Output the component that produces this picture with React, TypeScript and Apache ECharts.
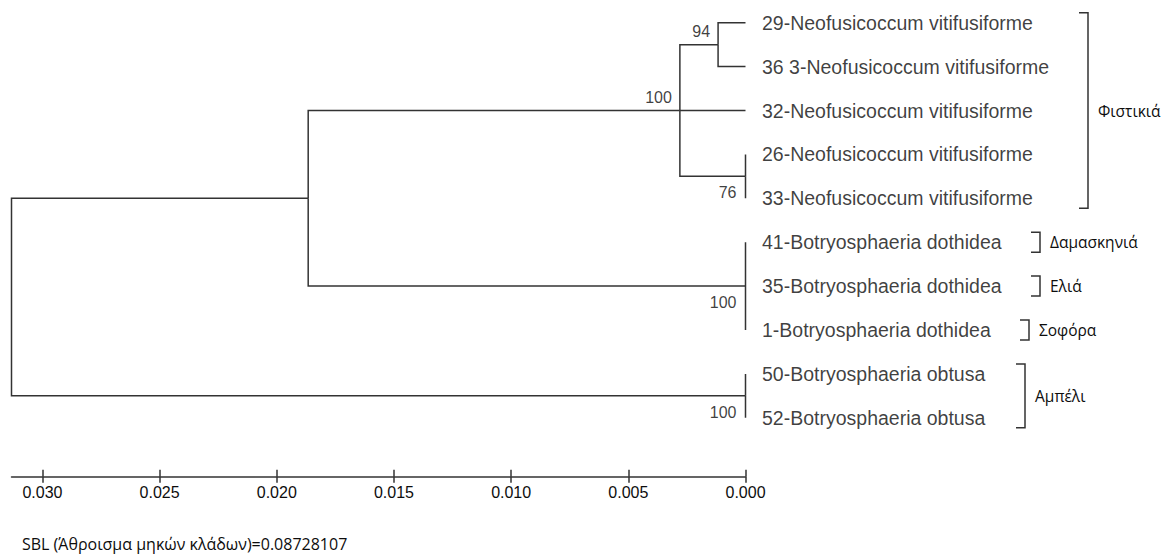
import React, { useEffect, useRef } from 'react';
import * as echarts from 'echarts';

// ---- data ----
const leafNames = [
  '29-Neofusicoccum vitifusiforme',
  '36 3-Neofusicoccum vitifusiforme',
  '32-Neofusicoccum vitifusiforme',
  '26-Neofusicoccum vitifusiforme',
  '33-Neofusicoccum vitifusiforme',
  '41-Botryosphaeria dothidea',
  '35-Botryosphaeria dothidea',
  '1-Botryosphaeria dothidea',
  '50-Botryosphaeria obtusa',
  '52-Botryosphaeria obtusa',
];
const leafDepths = [0, 0, 0, 0, 0, 0, 0, 0, 0, 0];

const nodeIds = ['n29_36', 'nNeo', 'n26_33', 'nDoth', 'nObt', 'nNeoDoth', 'root'];
const nodeDepths = [0.00117, 0.0028, 0, 0, 0, 0.01866, 0.03132];
const nodeChildren = [
  ['L0', 'L1'],
  ['n29_36', 'L2', 'n26_33'],
  ['L3', 'L4'],
  ['L5', 'L6', 'L7'],
  ['L8', 'L9'],
  ['nNeo', 'nDoth'],
  ['nNeoDoth', 'nObt'],
];
const nodeSupport: (number | null)[] = [94, 100, 76, 100, 100, null, null];
const supportSide: (string | null)[] = ['above', 'above', 'below', 'below', 'below', null, null];

const axisTickValues = [0, 0.005, 0.01, 0.015, 0.02, 0.025, 0.03];

const hostNames = ['Φιστικιά', 'Δαμασκηνιά', 'Ελιά', 'Σοφόρα', 'Αμπέλι'];
const hostFirstLeaf = [0, 5, 6, 7, 8];
const hostLastLeaf = [4, 5, 6, 7, 9];

const sblText = 'SBL (Άθροισμα μηκών κλάδων)=0.08728107';

// ---- layout (pixels) ----
const bracketX = [1088, 1040, 1040, 1029, 1025];
const LINE = '#333333';
const TEXT = '#0d0d0d';
const GREEK_FONT = '"Open Sans", "Noto Sans", sans-serif';
const SANS = '"Liberation Sans", Arial, sans-serif';

function pos(id: string): [number, number] {
  if (id.startsWith('L')) {
    const i = Number(id.slice(1));
    return [leafDepths[i], i];
  }
  const k = nodeIds.indexOf(id);
  const ch = nodeChildren[k];
  const first = pos(ch[0]);
  const last = pos(ch[ch.length - 1]);
  return [nodeDepths[k], (first[1] + last[1]) / 2];
}

export default function App() {
  const ref = useRef<HTMLDivElement>(null);
  useEffect(() => {
    if (!ref.current) return;
    const chart = echarts.init(ref.current, null, { renderer: 'svg' });

    const branches: any[] = [];
    nodeIds.forEach((id, k) => {
      const [nx, ny] = pos(id);
      nodeChildren[k].forEach((c) => {
        const [cx, cy] = pos(c);
        branches.push({ coords: [[nx, ny], [nx, cy], [cx, cy]] });
      });
    });

    const supportData: any[] = [];
    nodeIds.forEach((id, k) => {
      if (nodeSupport[k] == null) return;
      const [nx, ny] = pos(id);
      const above = supportSide[k] === 'above';
      supportData.push({
        value: [nx, ny],
        name: String(nodeSupport[k]),
        label: { position: above ? [-7.5, -12.5] : [-8.5, 17] },
      });
    });

    const xAxisBase = {
      type: 'value',
      inverse: true,
      min: 0,
      max: nodeDepths[nodeDepths.length - 1],
      interval: 0.005,
      position: 'bottom',
      offset: 59,
      splitLine: { show: false },
    };

    chart.setOption({
      animation: false,
      backgroundColor: '#ffffff',
      grid: { left: 11.5, right: 417.5, top: 22.7, bottom: 136.2, containLabel: false },
      xAxis: [
        {
          ...xAxisBase,
          axisLine: { show: true, onZero: false, lineStyle: { color: LINE, width: 1.5 } },
          axisTick: { show: true, inside: false, length: 6, customValues: axisTickValues, lineStyle: { color: LINE, width: 1.5 } },
          axisLabel: {
            show: true,
            customValues: axisTickValues,
            formatter: (v: number) => v.toFixed(3),
            fontSize: 16,
            fontFamily: SANS,
            color: TEXT,
            margin: 8,
          },
        },
        {
          ...xAxisBase,
          axisLine: { show: false, onZero: false },
          axisTick: { show: true, inside: true, length: 7, customValues: axisTickValues, lineStyle: { color: LINE, width: 1.5 } },
          axisLabel: { show: false },
        },
      ],
      yAxis: { type: 'value', inverse: true, min: 0, max: leafNames.length - 1, show: false },
      series: [
        {
          type: 'lines',
          coordinateSystem: 'cartesian2d',
          polyline: true,
          silent: true,
          lineStyle: { color: LINE, width: 1.5, opacity: 1 },
          data: branches,
        },
        {
          type: 'scatter',
          silent: true,
          symbolSize: 1,
          itemStyle: { color: 'rgba(0,0,0,0)' },
          data: leafNames.map((n, i) => ({ value: [leafDepths[i], i], name: n })),
          label: {
            show: true,
            position: 'right',
            distance: 16,
            formatter: (p: any) => p.name,
            fontSize: 19.5,
            fontFamily: SANS,
            color: TEXT,
          },
        },
        {
          type: 'scatter',
          silent: true,
          symbolSize: 1,
          itemStyle: { color: 'rgba(0,0,0,0)' },
          data: supportData,
          label: {
            show: true,
            formatter: (p: any) => p.name,
            align: 'right',
            verticalAlign: 'middle',
            fontSize: 16,
            fontFamily: SANS,
            color: TEXT,
          },
        },
      ],
    });

    const yPix = (i: number) => (chart.convertToPixel({ gridIndex: 0 }, [0, i]) as number[])[1];
    const graphics: any[] = [];
    hostNames.forEach((h, g) => {
      const top = yPix(hostFirstLeaf[g]) - 10;
      const bot = yPix(hostLastLeaf[g]) + 10;
      const x = bracketX[g];
      graphics.push({
        type: 'polyline',
        shape: { points: [[x - 9, top], [x, top], [x, bot], [x - 9, bot]] },
        style: { stroke: LINE, lineWidth: 1.5, fill: 'none' },
        silent: true,
      });
      graphics.push({
        type: 'text',
        x: x + 10,
        y: (top + bot) / 2,
        style: { text: h, font: `15.5px ${GREEK_FONT}`, fill: TEXT, verticalAlign: 'middle' },
        silent: true,
      });
    });
    graphics.push({
      type: 'text',
      x: 22,
      y: 544,
      style: { text: sblText, font: `16px ${GREEK_FONT}`, lineHeight: 16, fill: TEXT, verticalAlign: 'middle' },
      silent: true,
    });
    chart.setOption({ graphic: graphics });

    return () => chart.dispose();
  }, []);

  return (
    <div
      ref={ref}
      style={{ position: 'absolute', left: 0, top: 0, width: 1163, height: 554, background: '#fff' }}
    />
  );
}
